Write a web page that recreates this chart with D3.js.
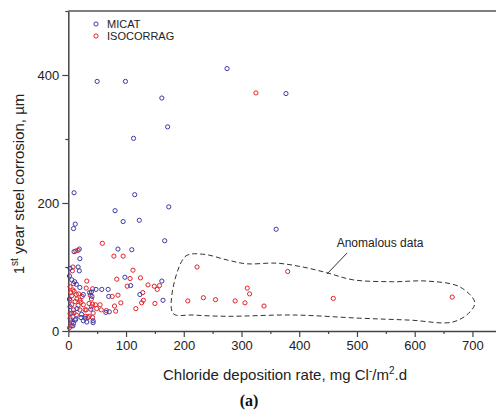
<!DOCTYPE html>
<html>
<head>
<meta charset="utf-8">
<script src="https://cdn.jsdelivr.net/npm/d3@7"></script>
<style>
  body { margin: 0; background: #fff; }
  svg { display: block; font-family: "Liberation Sans", Arial, sans-serif; }
</style>
</head>
<body>
<svg id="chart" width="496" height="413"></svg>
<script>
// chloride deposition (mg Cl-/m2.d), 1st year corrosion (um)
const micat = [
  [275, 410], [50, 390], [99, 390], [162, 364], [172, 319], [113, 301], [10, 216], [115, 213],
  [377, 371], [174, 194], [360, 159], [167, 141], [81, 188], [12, 167], [9, 160], [95, 171],
  [123, 173], [86, 128], [110, 127], [19, 128], [10, 124], [20, 113], [17, 100], [19, 94],
  [3, 98], [98, 84], [108, 71], [162, 78], [164, 48], [124, 57], [14, 73], [11, 77],
  [20, 68], [48, 65], [58, 65], [69, 65], [70, 54], [37, 60], [41, 54], [40, 61],
  [26, 57], [39, 34], [65, 29], [71, 30], [43, 16], [32, 14], [26, 16], [22, 21],
  [13, 19], [9, 12], [8, 8], [4, 17], [23, 26], [29, 20], [12, 17], [43, 13],
  [6, 28], [3, 38], [2, 50], [15, 35], [2, 86], [6, 80]
];
const isocorrag = [
  [325, 372], [59, 137], [13, 125], [17, 126], [7, 94], [8, 100], [79, 117], [95, 117],
  [112, 95], [84, 81], [107, 82], [125, 83], [138, 72], [102, 70], [149, 70], [158, 71],
  [154, 65], [129, 60], [127, 44], [130, 48], [117, 35], [150, 43], [86, 56], [76, 54],
  [91, 44], [80, 39], [82, 31], [66, 32], [57, 33], [55, 41], [47, 41], [32, 78],
  [31, 67], [42, 66], [24, 54], [36, 43], [42, 42], [40, 38], [43, 28], [30, 23],
  [34, 21], [31, 33], [3, 69], [9, 74], [8, 64], [14, 57], [6, 55], [38, 56],
  [40, 50], [3, 48], [12, 46], [20, 48], [26, 41], [6, 41], [17, 40], [9, 33],
  [20, 33], [29, 33], [49, 35], [3, 27], [14, 25], [36, 23], [42, 21], [3, 20],
  [6, 13], [4, 60], [10, 62], [2, 5], [5, 8], [10, 28], [15, 50], [18, 58], [22, 45],
  [223, 100], [207, 47], [234, 52], [255, 49], [289, 47], [306, 44], [310, 67], [314, 58],
  [339, 39], [380, 93], [459, 51], [665, 53]
];
const xMajor = [0, 100, 200, 300, 400, 500, 600, 700];
const xMinor = [50, 150, 250, 350, 450, 550, 650, 750];
const yMajor = [0, 200, 400];
const yMinor = [100, 300, 500];

// outline around the anomalous points, in data units
const anomalyOutline = [
  [181, 28], [202, 116], [233, 120], [275, 111], [309, 105], [361, 106], [406, 100],
  [448, 91], [493, 80], [562, 77], [621, 78], [678, 69], [704, 45], [696, 30],
  [666, 14], [592, 17], [505, 20], [389, 25], [275, 23], [216, 25]
];
const leader = [[448, 89], [483, 122]];

const x = d3.scaleLinear().domain([0, 750]).range([68.3, 501.3]);
const y = d3.scaleLinear().domain([0, 500]).range([331, 11]);

const svg = d3.select('#chart');
const axisColor = '#444';

// frame (top line, right side is cut off by the picture edge)
svg.append('line')
    .attr('x1', x(0)).attr('x2', x(750))
    .attr('y1', y(500)).attr('y2', y(500))
    .attr('stroke', '#555').attr('stroke-width', 1.5);

const xAxis = svg.append('g')
    .attr('transform', `translate(0,${y(0)})`)
    .call(d3.axisBottom(x).tickValues(xMajor).tickSize(6).tickPadding(4).tickSizeOuter(0));
xAxis.append('g')
    .call(d3.axisBottom(x).tickValues(xMinor).tickSize(3).tickFormat('').tickSizeOuter(0))
    .select('.domain').remove();

const yAxis = svg.append('g')
    .attr('transform', `translate(${x(0)},0)`)
    .call(d3.axisLeft(y).tickValues(yMajor).tickSize(6).tickPadding(3).tickSizeOuter(0));
yAxis.append('g')
    .call(d3.axisLeft(y).tickValues(yMinor).tickSize(3).tickFormat('').tickSizeOuter(0))
    .select('.domain').remove();

svg.selectAll('.domain').attr('stroke', axisColor).attr('stroke-width', 1.5);
svg.selectAll('.tick line').attr('stroke', axisColor).attr('stroke-width', 1.2);
svg.selectAll('.tick text')
    .attr('fill', '#222')
    .style('font-size', '13px')
    .style('font-family', '"Liberation Sans", Arial, sans-serif');

// points
const blue = '#3b3ba6';
const red = '#e3222a';
svg.append('g').selectAll('circle')
    .data(isocorrag)
    .join('circle')
    .attr('cx', d => x(d[0]))
    .attr('cy', d => y(d[1]))
    .attr('r', 2.1)
    .attr('fill', 'none')
    .attr('stroke', red)
    .attr('stroke-width', 1);
svg.append('g').selectAll('circle')
    .data(micat)
    .join('circle')
    .attr('cx', d => x(d[0]))
    .attr('cy', d => y(d[1]))
    .attr('r', 2.1)
    .attr('fill', 'none')
    .attr('stroke', blue)
    .attr('stroke-width', 1);

// anomalous data outline
const outline = d3.line()
    .x(d => x(d[0]))
    .y(d => y(d[1]))
    .curve(d3.curveCatmullRomClosed.alpha(0.5));
svg.append('path')
    .attr('d', outline(anomalyOutline))
    .attr('fill', 'none')
    .attr('stroke', '#333')
    .attr('stroke-width', 1)
    .attr('stroke-dasharray', '5,3');
svg.append('line')
    .attr('x1', x(leader[0][0])).attr('y1', y(leader[0][1]))
    .attr('x2', x(leader[1][0])).attr('y2', y(leader[1][1]))
    .attr('stroke', '#333').attr('stroke-width', 1);
svg.append('text')
    .attr('x', x(540)).attr('y', y(131))
    .attr('text-anchor', 'middle')
    .style('font-size', '12px')
    .attr('fill', '#222')
    .text('Anomalous data');

// legend
const legend = svg.append('g').attr('transform', 'translate(96,24)');
[['MICAT', blue], ['ISOCORRAG', red]].forEach(([name, c], i) => {
    const g = legend.append('g').attr('transform', `translate(0,${i * 12})`);
    g.append('circle').attr('r', 2.1).attr('fill', 'none').attr('stroke', c).attr('stroke-width', 1);
    g.append('text').attr('x', 11).attr('y', 4)
        .style('font-size', '11px').attr('fill', '#222').text(name);
});

// axis titles
svg.append('text')
    .attr('x', 285).attr('y', 380)
    .attr('text-anchor', 'middle')
    .style('font-size', '15px')
    .attr('fill', '#222')
    .html('Chloride deposition rate, mg Cl<tspan dy="-6" font-size="10px">-</tspan><tspan dy="6">/m</tspan><tspan dy="-6" font-size="10px">2</tspan><tspan dy="6">.d</tspan>');

svg.append('text')
    .attr('transform', 'translate(24,184) rotate(-90)')
    .attr('text-anchor', 'middle')
    .style('font-size', '15px')
    .attr('fill', '#222')
    .html('1<tspan dy="-6" font-size="10px">st</tspan><tspan dy="6"> year steel corrosion, µm</tspan>');

svg.append('text')
    .attr('x', 249).attr('y', 406)
    .attr('text-anchor', 'middle')
    .style('font-family', '"Liberation Serif", "Times New Roman", serif')
    .style('font-size', '16px')
    .style('font-weight', 'bold')
    .attr('fill', '#111')
    .text('(a)');
</script>
</body>
</html>
